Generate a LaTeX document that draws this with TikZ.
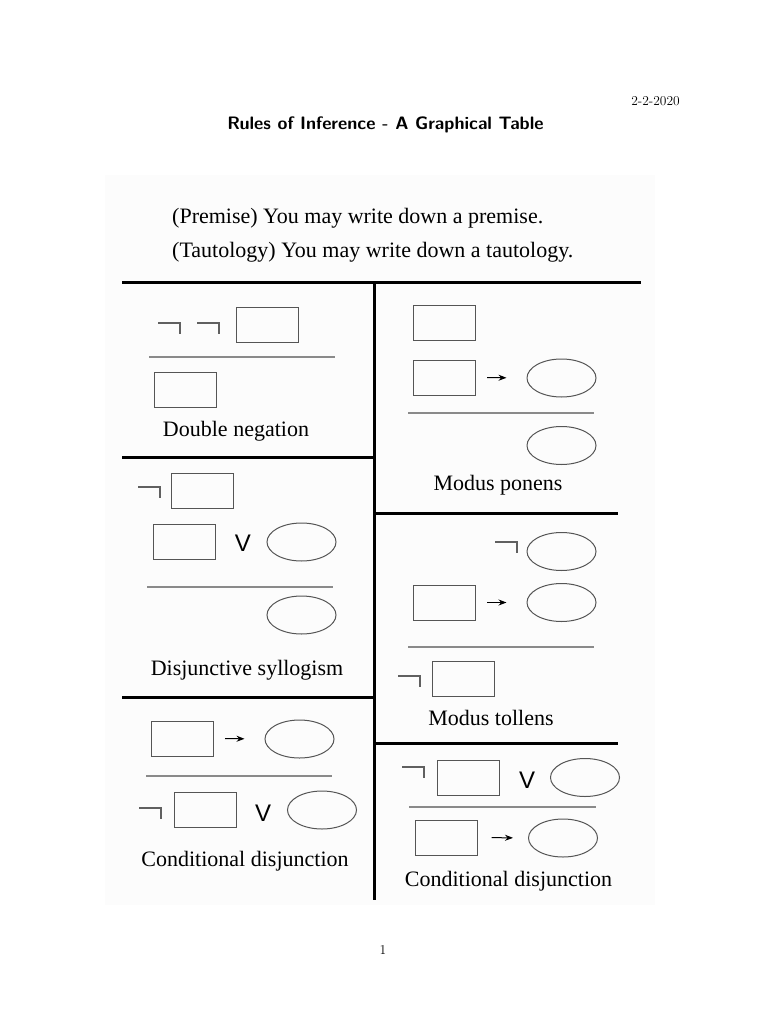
\documentclass[tikz,border=0pt]{standalone}
\usepackage{fontspec}
\usetikzlibrary{shapes.geometric,arrows.meta}
\newfontfamily\tnr{Liberation Serif}
\newfontfamily\arialf{Liberation Sans}
\definecolor{propc}{HTML}{555555}
\definecolor{rulec}{HTML}{8A8A8A}
\definecolor{negc}{HTML}{606060}
\begin{document}
\begin{tikzpicture}[x=1pt,y=-1pt,
  prop/.style={draw=propc, line width=1pt, minimum width=62pt, minimum height=35pt, inner sep=0pt},
  conc/.style={ellipse, draw=propc, line width=1pt, minimum width=69pt, minimum height=38pt, inner sep=0pt},
  rulel/.style={draw=rulec, line width=1.2pt},
  frame/.style={draw=black, line width=3pt},
  negline/.style={draw=negc, line width=1.4pt},
  imp/.style={-{Stealth[length=8pt,width=6pt]}, line width=1pt},
  lab/.style={font=\tnr\fontsize{22}{26}\selectfont, anchor=base, inner sep=0pt},
  orsym/.style={font=\arialf\fontsize{24}{26}\selectfont, inner sep=0pt}]
\useasboundingbox (0,0) rectangle (768,1024);
\fill[white] (0,0) rectangle (768,1024);
\fill[black!1] (105,175) rectangle (655,905);

% header
\node[font=\fontsize{13.5}{16}\selectfont, anchor=base east, inner sep=0pt] (date) at (680,106) {2-2-2020};
\node[font=\sffamily\bfseries\fontsize{18}{22}\selectfont, anchor=base, inner sep=0pt] (title) at (385.5,130) {Rules of Inference - A Graphical Table};
\node[lab, anchor=base west] (prem) at (172,223) {(Premise) You may write down a premise.};
\node[lab, anchor=base west] (taut) at (172,257) {(Tautology) You may write down a tautology.};

% frame
\draw[frame] (122,282) -- (641,282);
\draw[frame] (374,282) -- (374,900);
\draw[frame] (122,457) -- (374,457);
\draw[frame] (122,697) -- (374,697);
\draw[frame] (374,513) -- (618,513);
\draw[frame] (374,743) -- (618,743);

% Double negation
\coordinate (dnn1) at (158,323);
\coordinate (dnn2) at (197,323);
\draw[negline] (dnn1) -| ++(22,11);
\draw[negline] (dnn2) -| ++(22,11);
\node[prop] (dnA) at (267.5,325) {};
\draw[rulel] (149,357) -- (335,357);
\node[prop] (dnB) at (185.5,390) {};
\node[lab] (dnL) at (236,436) {Double negation};

% Modus ponens
\node[prop] (mpA) at (444.5,322.5) {};
\node[prop] (mpB) at (444.5,377.5) {};
\node[conc] (mpC) at (561.5,378) {};
\draw[imp, shorten <=11pt, shorten >=20pt] (mpB.east) -- (mpC.west);
\draw[rulel] (408,413) -- (594,413);
\node[conc] (mpD) at (561.5,445.5) {};
\node[lab] (mpL) at (498,490) {Modus ponens};

% Disjunctive syllogism
\coordinate (dsn) at (138,487);
\draw[negline] (dsn) -| ++(22,11);
\node[prop] (dsA) at (202,491) {};
\node[prop] (dsB) at (184,541.5) {};
\node[orsym] (dsV) at (243,543.5) {V};
\node[conc] (dsC) at (301.5,542) {};
\draw[rulel] (147,587) -- (333,587);
\node[conc] (dsD) at (301.5,615) {};
\node[lab] (dsL) at (247,675) {Disjunctive syllogism};

% Modus tollens
\coordinate (mtn1) at (495,542);
\draw[negline] (mtn1) -| ++(22,11);
\node[conc] (mtA) at (561.5,551.5) {};
\node[prop] (mtB) at (444.5,602.5) {};
\node[conc] (mtC) at (561.5,602.5) {};
\draw[imp, shorten <=11pt, shorten >=20pt] (mtB.east) -- (mtC.west);
\draw[rulel] (408,647) -- (594,647);
\coordinate (mtn2) at (398,676);
\draw[negline] (mtn2) -| ++(22,11);
\node[prop] (mtD) at (463,678.5) {};
\node[lab] (mtL) at (491,725) {Modus tollens};

% Conditional disjunction (left)
\node[prop] (cdA) at (182.5,738.5) {};
\node[conc] (cdB) at (299.5,739) {};
\draw[imp, shorten <=11pt, shorten >=20pt] (cdA.east) -- (cdB.west);
\draw[rulel] (146,776) -- (332,776);
\coordinate (cdn) at (139,808);
\draw[negline] (cdn) -| ++(22,11);
\node[prop] (cdC) at (205,810) {};
\node[orsym] (cdV) at (263,813) {V};
\node[conc] (cdD) at (322,810) {};
\node[lab] (cdL) at (245,866) {Conditional disjunction};

% Conditional disjunction (right)
\coordinate (crn) at (402,767);
\draw[negline] (crn) -| ++(22,11);
\node[prop] (crA) at (468,777.5) {};
\node[orsym] (crV) at (527,780.5) {V};
\node[conc] (crB) at (585,777.5) {};
\draw[rulel] (409,807) -- (596,807);
\node[prop] (crC) at (446,837.5) {};
\node[conc] (crD) at (563,838) {};
\draw[imp, shorten <=14pt, shorten >=15pt] (crC.east) -- (crD.west);
\node[lab] (crL) at (508.5,886) {Conditional disjunction};

% page number
\node[font=\fontsize{13.5}{16}\selectfont, anchor=base, inner sep=0pt] (pg) at (383,954) {1};
\end{tikzpicture}
\end{document}
